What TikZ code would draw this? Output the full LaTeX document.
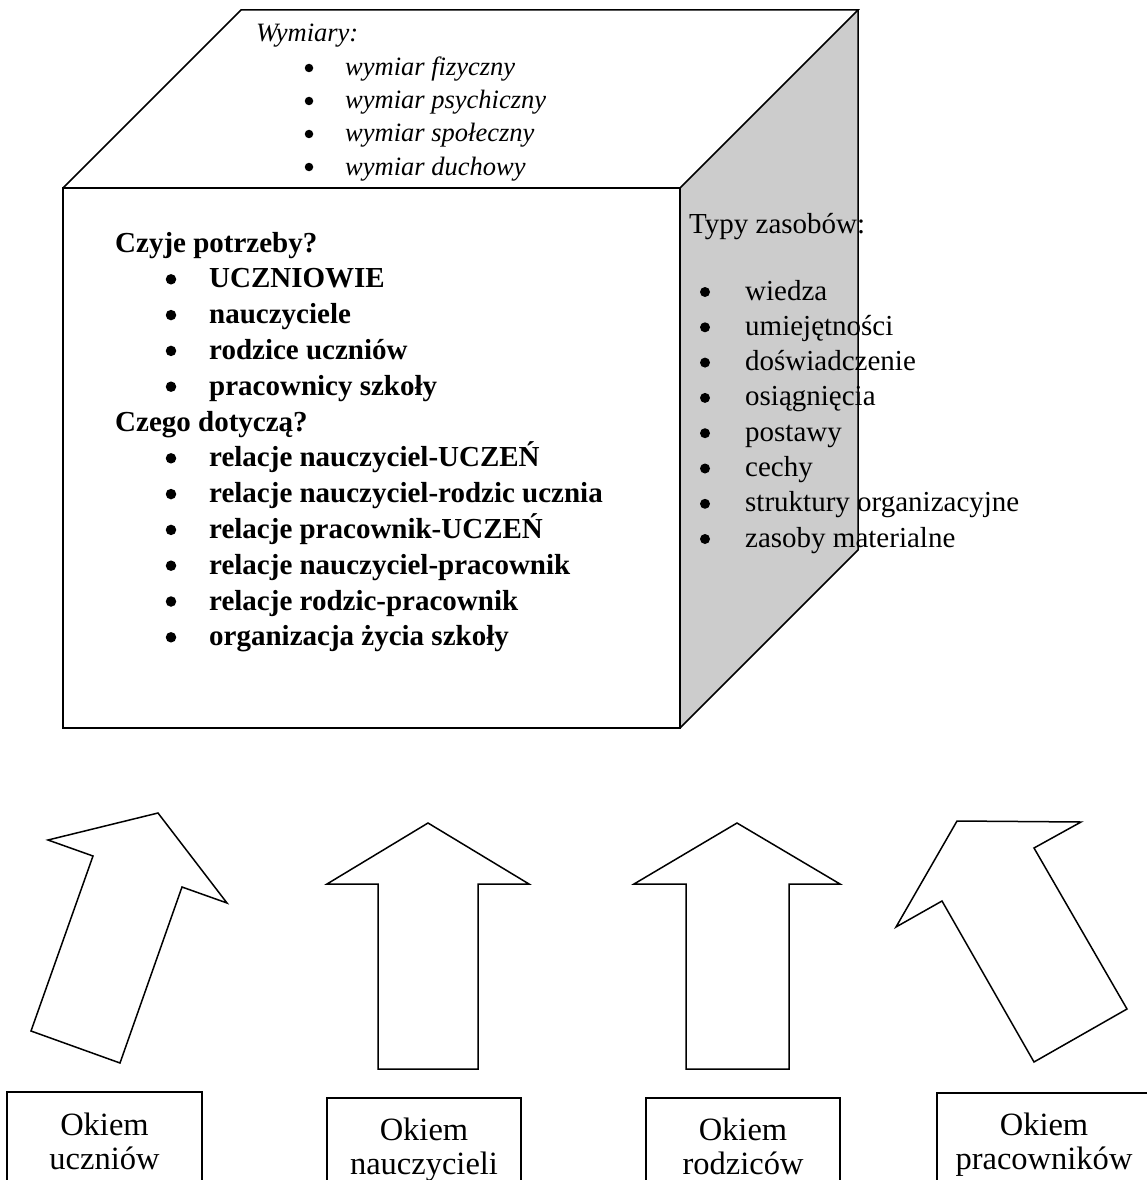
\documentclass[tikz,border=0pt]{standalone}
\usepackage{fontspec}
\setmainfont{Liberation Serif}
\definecolor{sidegray}{RGB}{204,204,204}
\tikzset{
  edge/.style={draw=black, line width=1.5pt, line join=miter},
  bigarrow/.style={edge, fill=white},
  dot/.style={circle, fill=black, inner sep=0pt, minimum size=#1},
  itx/.style={anchor=base west, inner sep=0pt, font=\fontsize{26.5}{30}\selectfont\itshape},
  bdx/.style={anchor=base west, inner sep=0pt, font=\fontsize{29}{35}\selectfont\bfseries},
  rgx/.style={anchor=base west, inner sep=0pt, font=\fontsize{29}{33}\selectfont},
  boxtxt/.style={anchor=base, inner sep=0pt, font=\fontsize{32.5}{34}\selectfont},
}
\begin{document}
\begin{tikzpicture}[x=1pt,y=-1pt]
\useasboundingbox (0,0) rectangle (1147,1180);
\fill[white] (0,0) rectangle (1147,1180);

% cube
\fill[sidegray] (680,188) -- (858,10) -- (858,550) -- (680,728) -- cycle;
\draw[edge] (63,188) rectangle (680,728);
\draw[edge] (63,188) -- (241,10) -- (858,10) -- (680,188);
\draw[edge] (858,10) -- (858,550) -- (680,728);

% top face text
\node[itx] (wym) at (256,42) {Wymiary:};
\foreach \n/\t/\yy in {w1/wymiar fizyczny/76, w2/wymiar psychiczny/109, w3/wymiar społeczny/142, w4/wymiar duchowy/175}{
  \node[dot=8.5pt] (\n b) at (309,\yy-8) {};
  \node[itx] (\n) at (345,\yy) {\t};
}

% front face text
\node[bdx] (czyje) at (115,252) {Czyje potrzeby?};
\foreach \n/\t/\yy in {p1/UCZNIOWIE/287.8, p2/nauczyciele/323.6, p3/rodzice uczniów/359.4, p4/pracownicy szkoły/395.2}{
  \node[dot=10.5pt] (\n b) at (171,\yy-8.5) {};
  \node[bdx] (\n) at (209,\yy) {\t};
}
\node[bdx] (czego) at (115,431) {Czego dotyczą?};
\foreach \n/\t/\yy in {r1/relacje nauczyciel-UCZEŃ/466.8, r2/relacje nauczyciel-rodzic ucznia/502.6, r3/relacje pracownik-UCZEŃ/538.4, r4/relacje nauczyciel-pracownik/574.2, r5/relacje rodzic-pracownik/610, r6/organizacja życia szkoły/645.8}{
  \node[dot=10.5pt] (\n b) at (171,\yy-8.5) {};
  \node[bdx] (\n) at (209,\yy) {\t};
}

% side face text
\node[rgx] (typy) at (689,233) {Typy zasobów:};
\foreach \n/\t/\yy in {z1/wiedza/300, z2/umiejętności/335.3, z3/doświadczenie/370.6, z4/osiągnięcia/405.9, z5/postawy/441.2, z6/cechy/476.5, z7/struktury organizacyjne/511.8, z8/zasoby materialne/547}{
  \node[dot=10pt] (\n b) at (705,\yy-8) {};
  \node[rgx] (\n) at (745,\yy) {\t};
}

% arrows
\draw[bigarrow] (158,813) -- (227,903) -- (182,887) -- (120,1063) -- (31,1031) -- (93,856) -- (48,840) -- cycle;
\draw[bigarrow] (428,823) -- (529,884) -- (478,884) -- (478,1069) -- (378,1069) -- (378,884) -- (327,884) -- cycle;
\draw[bigarrow] (737,823) -- (840,884) -- (789,884) -- (789,1069) -- (686,1069) -- (686,884) -- (634,884) -- cycle;
\draw[bigarrow] (957,821) -- (1081,822) -- (1034,848) -- (1127,1009) -- (1034,1062) -- (942,901) -- (896,927) -- cycle;

% bottom boxes (cut off by the page edge)
\begin{scope}
\clip (0,0) rectangle (1147,1180);
\draw[edge] (7,1200) -- (7,1092) -- (202,1092) -- (202,1200);
\draw[edge] (327,1200) -- (327,1098) -- (521,1098) -- (521,1200);
\draw[edge] (646,1200) -- (646,1098) -- (840,1098) -- (840,1200);
\draw[edge] (937,1200) -- (937,1093) -- (1152,1093) -- (1152,1200);
\node[boxtxt] (b1a) at (104.5,1135) {Okiem};
\node[boxtxt] (b1b) at (104.5,1169) {uczniów};
\node[boxtxt] (b2a) at (424,1140) {Okiem};
\node[boxtxt] (b2b) at (424,1174) {nauczycieli};
\node[boxtxt] (b3a) at (743,1140) {Okiem};
\node[boxtxt] (b3b) at (743,1174) {rodziców};
\node[boxtxt] (b4a) at (1044,1135) {Okiem};
\node[boxtxt] (b4b) at (1044,1169) {pracowników};
\end{scope}
\end{tikzpicture}
\end{document}
